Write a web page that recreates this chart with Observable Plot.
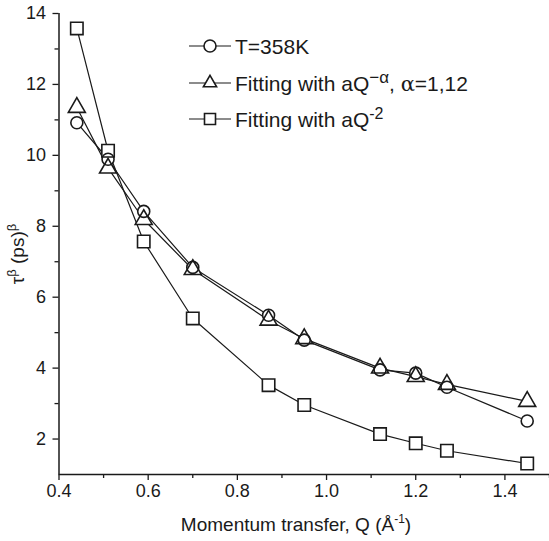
<!DOCTYPE html>
<html>
<head>
<meta charset="utf-8">
<script src="https://cdn.jsdelivr.net/npm/d3@7"></script>
<script src="https://cdn.jsdelivr.net/npm/@observablehq/plot@0.6"></script>
<style>
  html, body { margin: 0; padding: 0; background: #fff; }
  svg text { font-family: "Liberation Sans", Arial, Helvetica, sans-serif; }
</style>
</head>
<body>
<div id="chart"></div>
<script>
// ---- data ----
const Q = [0.44, 0.51, 0.59, 0.70, 0.87, 0.95, 1.12, 1.20, 1.27, 1.45];
const T358 = [10.92, 9.89, 8.42, 6.84, 5.49, 4.79, 3.95, 3.86, 3.46, 2.51];
const fitAlpha = [11.35, 9.64, 8.19, 6.78, 5.35, 4.83, 4.00, 3.76, 3.54, 3.06];
const fitQ2 = [13.58, 10.13, 7.57, 5.40, 3.52, 2.96, 2.14, 1.88, 1.67, 1.31];

const xMajorTicks = [0.4, 0.6, 0.8, 1.0, 1.2, 1.4];
const xMinorTicks = [0.5, 0.7, 0.9, 1.1, 1.3, 1.5];
const yMajorTicks = [2, 4, 6, 8, 10, 12, 14];
const yMinorTicks = [3, 5, 7, 9, 11, 13];

const seriesNames = ["T=358K", "fitAlpha", "fitQ2"];
const seriesSymbols = {"T=358K": "circle", "fitAlpha": "triangle", "fitQ2": "square"};
const seriesR = {"T=358K": 6, "fitAlpha": 6.3, "fitQ2": 7};

const rows = [];
[T358, fitAlpha, fitQ2].forEach((vals, i) => {
  vals.forEach((v, j) => rows.push({series: seriesNames[i], q: Q[j], v}));
});

const ink = "#1a1a1a";
const marks = [
  Plot.ruleY([1], {stroke: ink, strokeWidth: 1.5}),
  Plot.ruleX([0.4], {y1: 1, y2: 14, stroke: ink, strokeWidth: 1.5}),
  Plot.axisX(xMajorTicks, {tickSize: 6, tickPadding: 4, fontSize: 18, fill: ink, stroke: ink, strokeWidth: 1.3, tickFormat: d3.format(".1f"), label: null}),
  Plot.axisX(xMinorTicks, {tickSize: 4, text: null, stroke: ink, strokeWidth: 1.3, label: null}),
  Plot.axisY(yMajorTicks, {tickSize: 6, tickPadding: 7, fontSize: 18, fill: ink, stroke: ink, strokeWidth: 1.3, label: null}),
  Plot.axisY(yMinorTicks, {tickSize: 4, text: null, stroke: ink, strokeWidth: 1.3, label: null}),
];
for (const s of seriesNames) {
  marks.push(Plot.line(rows.filter(d => d.series === s), {x: "q", y: "v", stroke: ink, strokeWidth: 1.2}));
}
for (const s of seriesNames) {
  marks.push(Plot.dot(rows.filter(d => d.series === s), {x: "q", y: "v", symbol: () => seriesSymbols[s], r: seriesR[s], fill: "white", stroke: "none"}));
}
for (const s of seriesNames) {
  marks.push(Plot.dot(rows.filter(d => d.series === s), {x: "q", y: "v", symbol: () => seriesSymbols[s], r: seriesR[s], fill: "none", stroke: ink, strokeWidth: 1.6}));
}

const plot = Plot.plot({
  width: 549,
  height: 541,
  marginTop: 13,
  marginBottom: 67,
  marginLeft: 58.5,
  marginRight: 0,
  style: {background: "white", color: ink, fontFamily: '"Liberation Sans", Arial, sans-serif'},
  x: {domain: [0.4, 1.5]},
  y: {domain: [1, 14]},
  symbol: {type: "identity"},
  marks
});
document.getElementById("chart").appendChild(plot);

const svg = d3.select(plot);
svg.selectAll('g[aria-label="x-axis tick label"], g[aria-label="y-axis tick label"]')
  .attr("font-size", 18).style("font-size", "18px");

const font = '"Liberation Sans", Arial, sans-serif';

const xl = svg.append("text")
  .attr("x", 296).attr("y", 531)
  .attr("text-anchor", "middle").attr("font-size", 19).attr("fill", ink).attr("font-family", font);
xl.append("tspan").text("Momentum transfer, Q (Å");
xl.append("tspan").attr("dy", -8).attr("font-size", 12).text("-1");
xl.append("tspan").attr("dy", 8).text(")");

const yl = svg.append("text")
  .attr("transform", "translate(24,254) rotate(-90)")
  .attr("text-anchor", "middle").attr("font-size", 19).attr("fill", ink).attr("font-family", font);
yl.append("tspan").text("τ");
yl.append("tspan").attr("dy", -8).attr("font-size", 13).text("β");
yl.append("tspan").attr("dy", 8).text(" (ps)");
yl.append("tspan").attr("dy", -8).attr("font-size", 13).text("β");

const legendRows = [
  {sym: "circle", r: 6, y: 46, parts: [["T=358K", 0]]},
  {sym: "triangle", r: 6.3, y: 83, parts: [["Fitting with aQ", 0], ["−α", -8, 17], [", ", 8], ["α", 0, 21, "DejaVu Serif"], ["=1,12", 0]]},
  {sym: "square", r: 7, y: 119, parts: [["Fitting with aQ", 0], ["-2", -8, 16]]}
];
const symMap = {circle: d3.symbolCircle, triangle: d3.symbolTriangle2, square: d3.symbolSquare2};
for (const row of legendRows) {
  const g = svg.append("g");
  g.append("line").attr("x1", 189).attr("x2", 231).attr("y1", row.y).attr("y2", row.y).attr("stroke", ink).attr("stroke-width", 1.2);
  g.append("path").attr("transform", `translate(210,${row.y})`)
    .attr("d", d3.symbol(symMap[row.sym], Math.PI * row.r * row.r)())
    .attr("fill", "white").attr("stroke", ink).attr("stroke-width", 1.6);
  const t = g.append("text").attr("x", 235).attr("y", row.y + 7.5).attr("text-anchor", "start")
    .attr("font-size", 21).attr("fill", ink).attr("font-family", font);
  for (const [txt, dy, fs, ff] of row.parts) {
    const ts = t.append("tspan").attr("dy", dy).text(txt);
    if (fs) ts.attr("font-size", fs);
    if (ff) ts.attr("font-family", ff);
  }
}
</script>
</body>
</html>
